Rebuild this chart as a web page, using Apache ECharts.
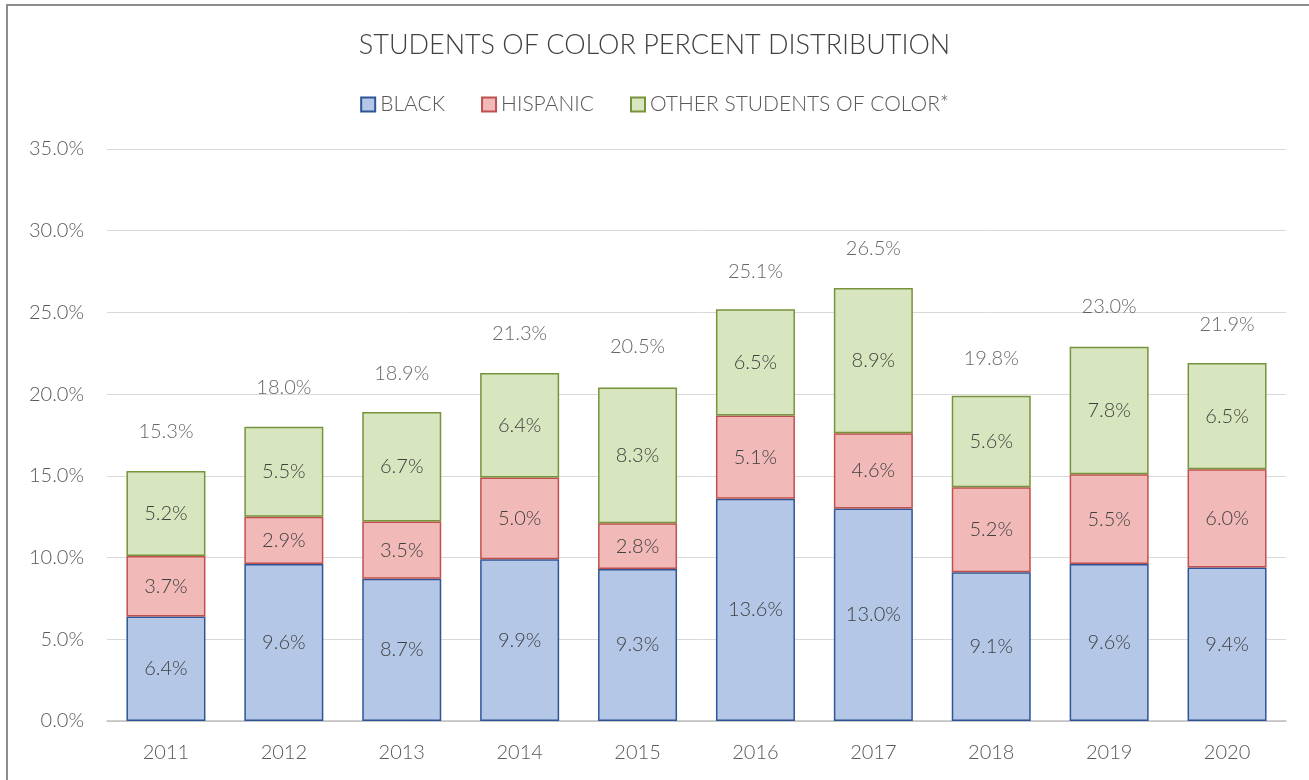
<!DOCTYPE html>
<html><head><meta charset="utf-8">
<script src="https://cdn.jsdelivr.net/npm/echarts@6/dist/echarts.min.js"></script>
<style>html,body{margin:0;padding:0;background:#fff}#c{width:1309px;height:780px}</style>
</head><body><div id="c"></div>
<script>
const years = ['2011','2012','2013','2014','2015','2016','2017','2018','2019','2020'];
const black = [6.4,9.6,8.7,9.9,9.3,13.6,13.0,9.1,9.6,9.4];
const hispanic = [3.7,2.9,3.5,5.0,2.8,5.1,4.6,5.2,5.5,6.0];
const other = [5.2,5.5,6.7,6.4,8.3,6.5,8.9,5.6,7.8,6.5];
const totals = [15.3,18.0,18.9,21.3,20.5,25.1,26.5,19.8,23.0,21.9];
const yTicks = [0,5,10,15,20,25,30,35];

const FONT = 'Lato';
const FW = 300;
const chart = echarts.init(document.getElementById('c'));
const lbl = {show:true, position:'inside', color:'#404040', fontSize:20, fontFamily:FONT, fontWeight:FW, formatter:p=>p.value.toFixed(1)+'%'};
function barSeries(name, data, fill, stroke){
  return {name, type:'bar', stack:'s', data, barWidth:'67%',
    itemStyle:{color:fill, borderColor:stroke, borderWidth:1.5},
    label:lbl, emphasis:{disabled:true}};
}
chart.setOption({
  animation:false,
  title:{text:'STUDENTS OF COLOR PERCENT DISTRIBUTION', left:'center', top:27,
    textStyle:{fontFamily:FONT, fontWeight:FW, fontSize:27, color:'#404040'}},
  legend:{top:89, left:'center', icon:'rect', itemWidth:14, itemHeight:14, itemGap:36,
    textStyle:{fontFamily:FONT, fontWeight:FW, fontSize:21, color:'#595959'},
    data:['BLACK','HISPANIC','OTHER STUDENTS OF COLOR*']},
  grid:{left:107, right:23, top:149, bottom:59},
  xAxis:{type:'category', data:years,
    axisLine:{lineStyle:{color:'#bfbfbf', width:1.5}}, axisTick:{show:false},
    axisLabel:{fontFamily:FONT, fontWeight:FW, fontSize:20, color:'#595959', margin:22}},
  yAxis:{type:'value', min:0, max:35, interval:5,
    axisLabel:{fontFamily:FONT, fontWeight:FW, fontSize:20, color:'#595959', margin:23, formatter:v=>v.toFixed(1)+'%'},
    splitLine:{lineStyle:{color:'#d9d9d9'}}},
  series:[
    barSeries('BLACK', black, '#b4c7e7', '#2f5597'),
    barSeries('HISPANIC', hispanic, '#f2b9b9', '#c0504d'),
    barSeries('OTHER STUDENTS OF COLOR*', other, '#d8e6bf', '#77933c'),
    {type:'scatter', data:totals.map((t,i)=>[years[i], t]), symbolSize:0, silent:true,
      label:{show:true, position:'top', distance:29, color:'#404040', fontSize:20, fontFamily:FONT, fontWeight:FW,
        formatter:p=>p.value[1].toFixed(1)+'%'}}
  ],
  graphic:[{type:'rect', shape:{x:7, y:5, width:1320, height:800}, style:{fill:'none', stroke:'#8c8c8c', lineWidth:2}, silent:true}]
});
</script></body></html>
